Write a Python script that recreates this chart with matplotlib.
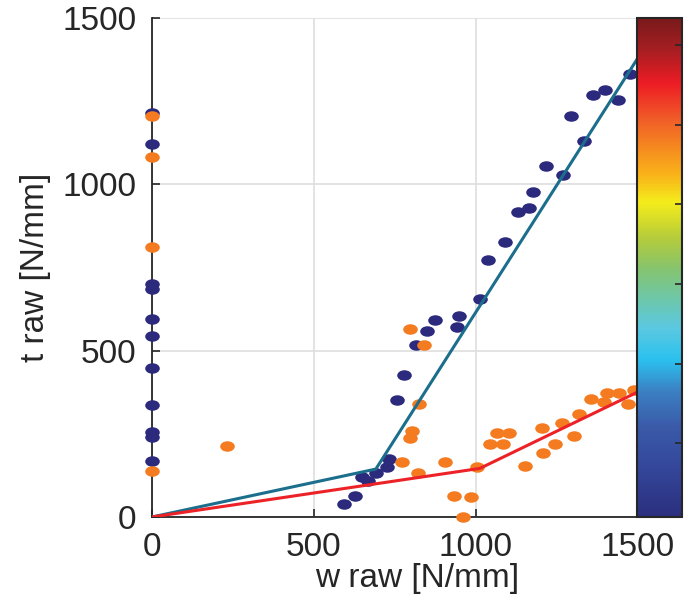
import numpy as np
import matplotlib
matplotlib.use('Agg')
from matplotlib import pyplot as plt
from matplotlib.path import Path
from matplotlib.colors import LinearSegmentedColormap, Normalize
from matplotlib.cm import ScalarMappable

# puntos azules (w, t)
blue_x = [0, 0, 0, 0, 0, 0, 0, 0, 0, 0, 0,
          593, 628, 647, 668, 690, 727, 732, 755, 778, 815, 850, 873, 940, 949,
          1012, 1038, 1090, 1129, 1165, 1177, 1215, 1270, 1294, 1334, 1360, 1398, 1439, 1475]
blue_y = [1214, 1121, 700, 685, 596, 543, 449, 337, 255, 240, 169,
          39, 64, 121, 109, 133, 151, 173, 353, 426, 518, 559, 591, 571, 603,
          656, 773, 826, 916, 928, 976, 1055, 1029, 1204, 1131, 1269, 1284, 1253, 1333]

# puntos naranjas (w, t)
orange_x = [0, 0, 0, 0, 232,
            773, 797, 796, 802, 820, 825, 840, 905, 932, 959, 984,
            1002, 1043, 1066, 1084, 1103, 1151, 1203, 1206, 1244, 1267, 1304, 1317,
            1354, 1396, 1405, 1442, 1470, 1489]
orange_y = [1204, 1081, 811, 139, 214,
            164, 236, 564, 258, 133, 341, 518, 164, 63, 0, 59,
            149, 218, 251, 218, 251, 154, 266, 191, 218, 284, 244, 309,
            356, 346, 374, 374, 341, 383]

# ajustes bilineales
fit_blue_x = [0, 691, 1500]
fit_blue_y = [0, 144, 1380]
fit_red_x = [0, 1012, 1500]
fit_red_y = [0, 146, 376]

cbar_ticks = [0.148, 0.307, 0.467, 0.627, 0.786, 0.945]

plt.rcParams['font.family'] = ['Liberation Sans', 'DejaVu Sans']

# marcador eliptico
circ = Path.unit_circle()
ellipse = Path(circ.vertices * np.array([1.0, 0.72]), circ.codes)

fig = plt.figure(figsize=(6.93, 6.01), dpi=100)
ax = fig.add_axes([0.2193, 0.1398, 0.7648, 0.8303])

ax.plot(blue_x, blue_y, linestyle='none', marker=ellipse, ms=10.5,
        color='#2b2a7c', mec='none', clip_on=False, zorder=3)
ax.plot(orange_x, orange_y, linestyle='none', marker=ellipse, ms=10.5,
        color='#f47b20', mec='none', clip_on=False, zorder=3)
ax.plot(fit_blue_x, fit_blue_y, '-', color='#1b6e8c', lw=2.2, zorder=4)
ax.plot(fit_red_x, fit_red_y, '-', color='#ec2227', lw=2.2, zorder=4)

ax.set_xlim(0, 1636)
ax.set_ylim(0, 1500)
ax.set_xticks([0, 500, 1000, 1500])
ax.set_yticks([0, 500, 1000, 1500])
ax.grid(True, color='#dedede', lw=1.2)
ax.set_axisbelow(True)
for s in ['top', 'right']:
    ax.spines[s].set_visible(False)
for s in ['left', 'bottom']:
    ax.spines[s].set_color('#262626')
    ax.spines[s].set_linewidth(1.3)
ax.tick_params(direction='in', length=6, width=1.2, color='#262626',
               labelsize=24, labelcolor='#262626')
ax.tick_params(axis='y', pad=11)
ax.tick_params(axis='x', pad=11)
ax.set_xlabel('w raw [N/mm]', fontsize=24, color='#262626', labelpad=0)
ax.set_ylabel('t raw [N/mm]', fontsize=24, color='#262626', labelpad=8)

# barra de colores
cmap = LinearSegmentedColormap.from_list('barra', [
    (0.00, '#2b2f7e'), (0.10, '#34479b'), (0.18, '#3a5aa8'), (0.25, '#3b7fc2'),
    (0.315, '#2bc1ef'), (0.38, '#5cc8e0'), (0.44, '#6ec7a6'), (0.50, '#87c46c'),
    (0.56, '#b5cc3a'), (0.63, '#f4ec1b'), (0.69, '#f9b01a'), (0.74, '#f58a1f'),
    (0.80, '#f05a28'), (0.87, '#ed1c24'), (0.94, '#a41e22'), (1.00, '#7b1a1a')])
cax = fig.add_axes([0.9192, 0.1398, 0.0649, 0.8303])
cb = fig.colorbar(ScalarMappable(norm=Normalize(0, 1), cmap=cmap), cax=cax)
cb.set_ticks(cbar_ticks)
cax.tick_params(direction='in', length=5, width=1.2, color='#262626',
                labelright=False, right=True, left=False)
cb.outline.set_edgecolor('#262626')
cb.outline.set_linewidth(1.5)

fig.savefig('out.png', dpi=100)
